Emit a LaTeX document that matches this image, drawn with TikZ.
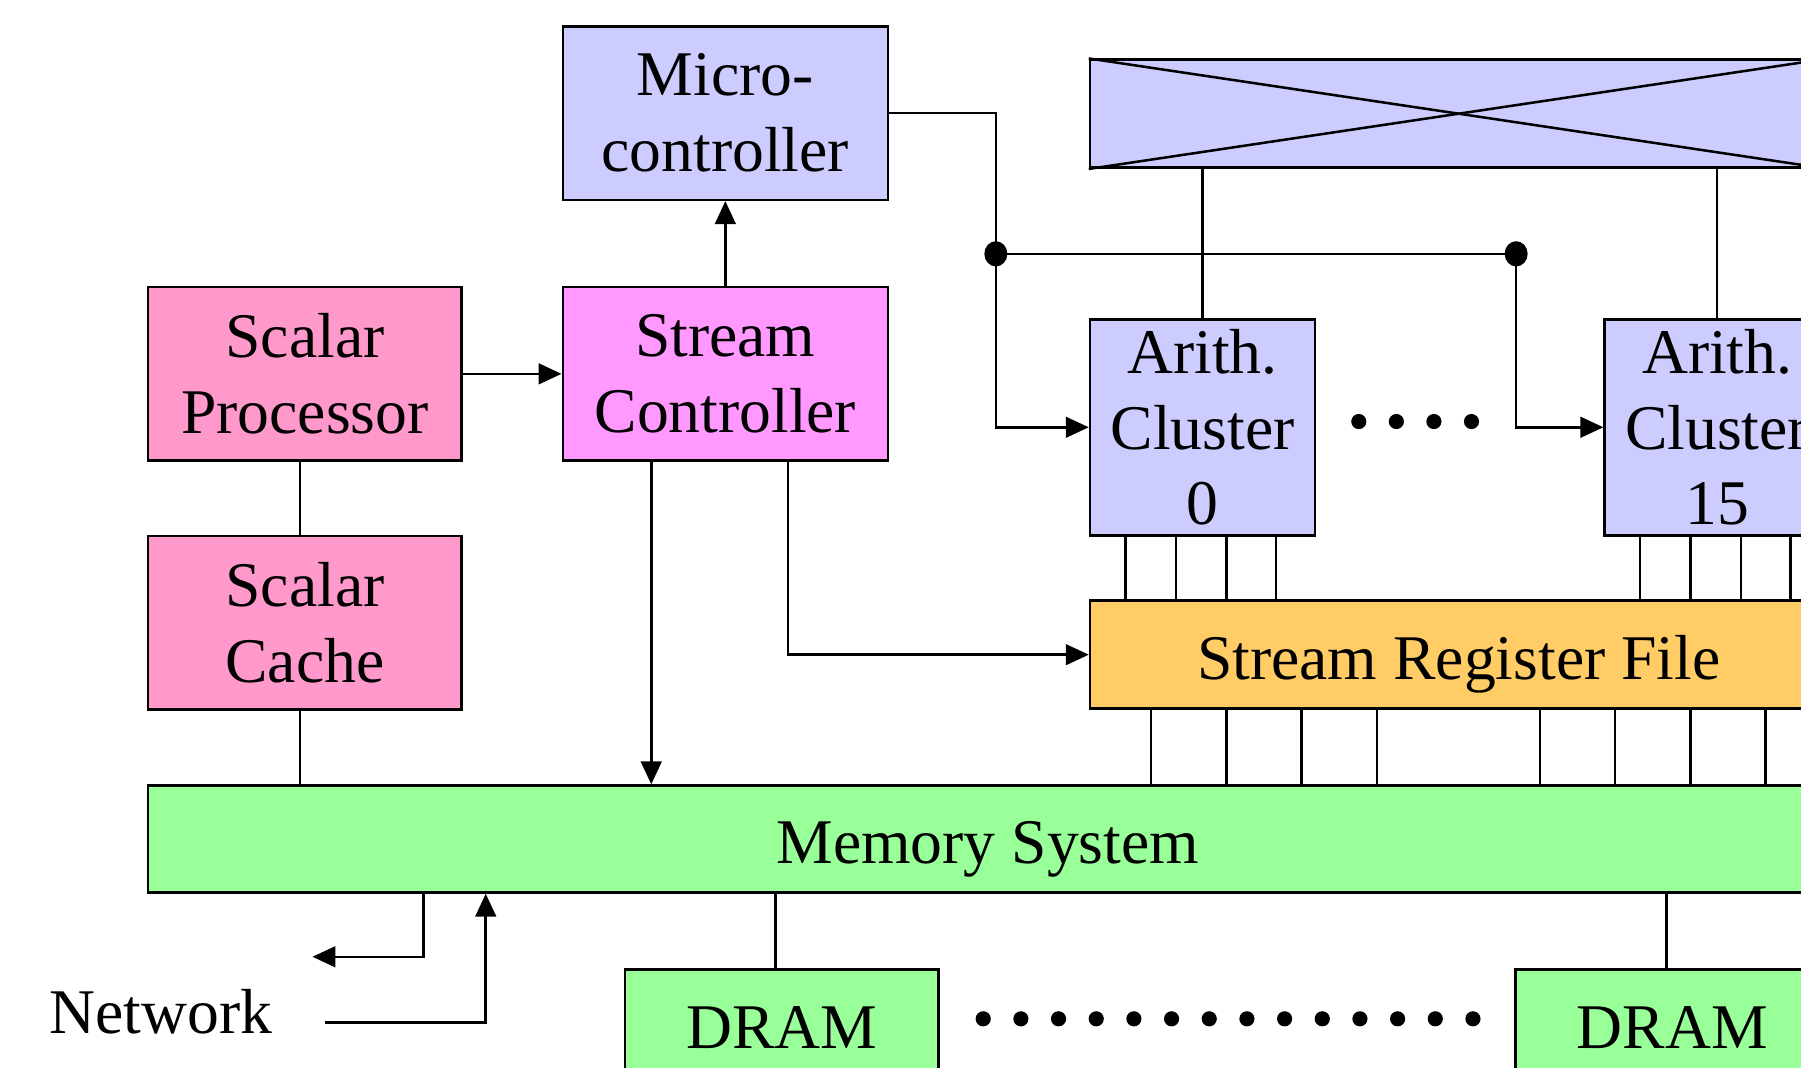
\documentclass[tikz,border=0pt]{standalone}
\usepackage{fontspec}
\setmainfont{Liberation Serif}
\usetikzlibrary{arrows.meta,calc}
\definecolor{clusterblue}{HTML}{CCCCFF}
\definecolor{scalarpink}{HTML}{FF99CC}
\definecolor{ctlpink}{HTML}{FF99FF}
\definecolor{srforange}{HTML}{FFCC66}
\definecolor{memgreen}{HTML}{99FF99}
\tikzset{
	unit/.style={draw, line width=1.1pt, inner sep=0pt, align=center,
			font=\fontsize{27.7}{33}\selectfont},
	oneline/.style={unit, text height=21.5pt, text depth=0pt},
	wire/.style={line width=1.1pt},
	feed/.style={wire, -{Triangle[length=10pt,width=9pt]}},
}

\begin{document}
\begin{tikzpicture}[x=0.5pt, y=-0.5pt]
	\useasboundingbox (0,0) rectangle (1568,929);
	\clip (0,0) rectangle (1568,929);

	% units
	\node[unit, fill=clusterblue, minimum width=141.5pt, minimum height=75.5pt] (micro) at (631.5,98.5) {Micro-\\controller};
	\node[unit, fill=clusterblue, minimum width=321pt, minimum height=47pt] (xbar) at (1270,99) {};
	\node[unit, fill=scalarpink, minimum width=136.5pt, minimum height=75.5pt] (scalar) at (265.5,325.5) {Scalar\\Processor};
	\node[unit, fill=ctlpink, minimum width=141.5pt, minimum height=75.5pt] (streamctl) at (631.5,325.5) {Stream\\Controller};
	\node[unit, fill=scalarpink, minimum width=136.5pt, minimum height=75.5pt] (cache) at (265.5,542) {Scalar\\Cache};
	\node[unit, fill=clusterblue, minimum width=98pt, minimum height=94pt] (clus0) at (1047,372) {Arith.\\Cluster\\0};
	\node[unit, fill=clusterblue, minimum width=98pt, minimum height=94pt] (clus15) at (1495,372) {Arith.\\Cluster\\15};
	\node[oneline, fill=srforange, minimum width=321pt, minimum height=47pt] (srf) at (1270,570) {Stream Register File};
	\node[oneline, fill=memgreen, minimum width=731pt, minimum height=46.5pt] (mem) at (860,730.5) {Memory System};
	\node[oneline, fill=memgreen, minimum width=136.5pt, minimum height=47pt] (dram0) at (680.5,891) {DRAM};
	\node[oneline, fill=memgreen, minimum width=136.5pt, minimum height=47pt] (dram1) at (1456,891) {DRAM};
	\node[font=\fontsize{27.7}{33}\selectfont] (net) at (140,881) {Network};

	% crossbar
	\draw[wire] (xbar.north west) -- (xbar.south east);
	\draw[wire] (xbar.south west) -- (xbar.north east);
	\draw[wire] (clus0.north) -- (clus0.north |- xbar.south);
	\draw[wire] (clus15.north) -- (clus15.north |- xbar.south);

	% instruction broadcast
	\coordinate (j1) at (867,221);
	\coordinate (j2) at (1320,221);
	\draw[feed] (micro.east) -| (j1) |- (clus0.west);
	\draw[wire] (j1) -- (j2);
	\draw[feed] (j2) |- (clus15.west);
	\fill (j1) ellipse [x radius=5pt, y radius=5.5pt];
	\fill (j2) ellipse [x radius=5pt, y radius=5.5pt];

	% control
	\draw[feed] (scalar) -- (streamctl);
	\draw[feed] (streamctl) -- (micro);
	\draw[wire] ([xshift=-2.25pt]scalar.south) -- ([xshift=-2.25pt]cache.north);
	\draw[wire] ([xshift=-2.25pt]cache.south) -- ([xshift=-2.25pt]cache.south |- mem.north);
	\draw[feed] ([xshift=-32.25pt]streamctl.south) -- ([xshift=-32.25pt]streamctl.south |- mem.north);
	\draw[feed] ([xshift=27.25pt]streamctl.south) |- (srf.west);

	% cluster and memory ports
	\foreach \dx in {32,76,120,163} {
		\path (clus0.south west) ++(\dx,0) coordinate (p);
		\draw[wire] (p) -- (p |- srf.north);
		\path (clus15.south west) ++(\dx,0) coordinate (q);
		\draw[wire] (q) -- (q |- srf.north);
	}
	\foreach \dx in {54,120,185,251,393,458,524,589} {
		\path (srf.south west) ++(\dx,0) coordinate (p);
		\draw[wire] (p) -- (p |- mem.north);
	}
	\draw[wire] ([xshift=-2.75pt]dram0.north) -- ([xshift=-2.75pt]dram0.north |- mem.south);
	\draw[wire] ([xshift=-2.5pt]dram1.north) -- ([xshift=-2.5pt]dram1.north |- mem.south);

	% network
	\path (mem.south west) ++(241,0) coordinate (memout);
	\path (mem.south west) ++(295,0) coordinate (memin);
	\coordinate (netout) at (272,833);
	\coordinate (netin) at (283,890);
	\draw[feed] (memout) |- (netout);
	\draw[feed] (netin) -| (memin);

	% ellipses
	\foreach \i in {0,...,3}
		\fill (1183+\i*32.7,367) circle [radius=3.3pt];
	\foreach \i in {0,...,13}
		\fill (856+\i*32.8,887) circle [radius=3.3pt];
\end{tikzpicture}
\end{document}
